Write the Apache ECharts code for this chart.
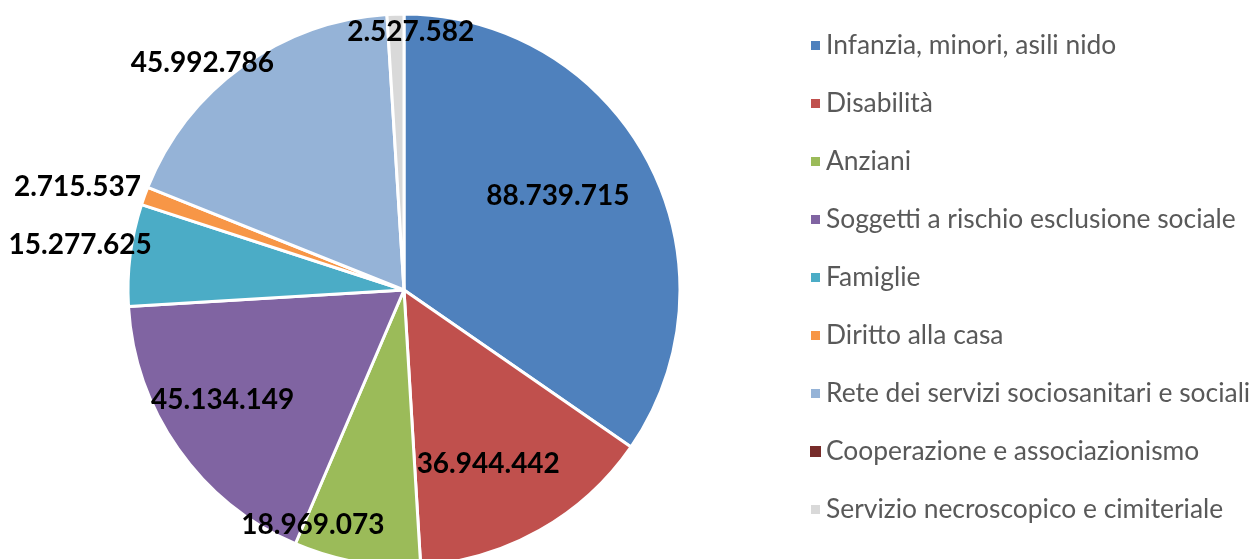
<!DOCTYPE html>
<html>
<head>
<meta charset="utf-8">
<script src="https://cdn.jsdelivr.net/npm/echarts@6/dist/echarts.min.js"></script>
<style>
  html, body { margin: 0; padding: 0; background: #fff; }
  #chart { width: 1256px; height: 559px; }
</style>
</head>
<body>
<div id="chart"></div>
<script>
  // categories and values
  const categories = [
    'Infanzia, minori, asili nido',
    'Disabilità',
    'Anziani',
    'Soggetti a rischio esclusione sociale',
    'Famiglie',
    'Diritto alla casa',
    'Rete dei servizi sociosanitari e sociali',
    'Cooperazione e associazionismo',
    'Servizio necroscopico e cimiteriale'
  ];
  const amounts = [88739715, 36944442, 18969073, 45134149, 15277625, 2715537, 45992786, 0, 2527582];
  const colors = ['#4F81BD', '#C0504D', '#9BBB59', '#8064A2', '#4BACC6', '#F79646', '#95B3D7', '#772C2A', '#D9D9D9'];

  // nudges of each value label from its default inside spot
  const labelNudge = [[29, -29], [15, 51], [-67, 96], [-66, 29], [-184, -27], [-194, -55], [-119, -113], [0, 0], [11, -117]];

  const fmt = v => String(v).replace(/\B(?=(\d{3})+(?!\d))/g, '.');

  const chart = echarts.init(document.getElementById('chart'), null, { renderer: 'canvas' });
  chart.setOption({
    animation: false,
    color: colors,
    legend: {
      orient: 'vertical',
      left: 804,
      top: 27,
      itemWidth: 11,
      itemHeight: 11,
      itemGap: 31,
      icon: 'rect',
      textStyle: { fontFamily: 'Lato', fontSize: 26.4, lineHeight: 27, color: '#595959', padding: [0, 0, 0, 0] },
      data: categories
    },
    series: [{
      type: 'pie',
      center: [404, 290],
      radius: [0, 276],
      startAngle: 90,
      clockwise: true,
      avoidLabelOverlap: false,
      minShowLabelAngle: 0,
      itemStyle: { borderColor: '#fff', borderWidth: 3 },
      label: {
        show: true,
        position: 'inside',
        formatter: p => fmt(p.value),
        fontFamily: 'Lato',
        fontWeight: 'bold',
        fontSize: 28,
        color: '#000'
      },
      labelLine: { show: false },
      emphasis: { disabled: true },
      labelLayout: p => ({ dx: labelNudge[p.dataIndex][0], dy: labelNudge[p.dataIndex][1] }),
      data: categories.map((name, i) => ({
        name: name,
        value: amounts[i],
        itemStyle: amounts[i] === 0 ? { borderWidth: 0 } : undefined,
        label: amounts[i] === 0 ? { show: false } : undefined
      }))
    }]
  });
</script>
</body>
</html>
